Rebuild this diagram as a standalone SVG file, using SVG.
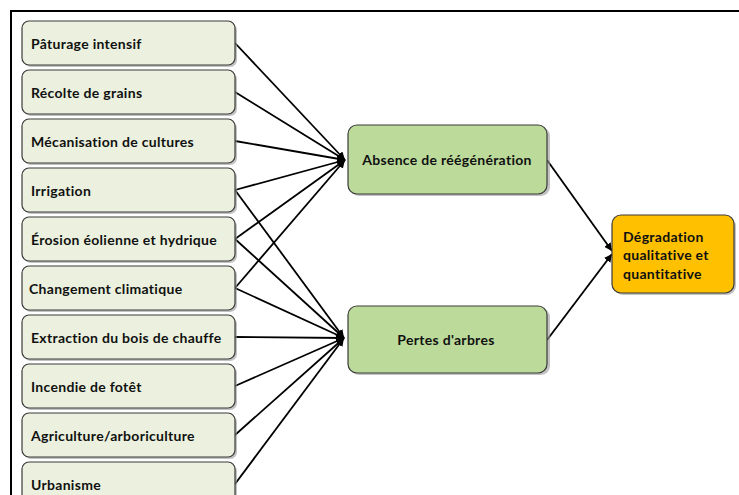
<svg xmlns="http://www.w3.org/2000/svg" width="739" height="495" viewBox="0 0 739 495">
<defs>
<style>
.frame{fill:none;stroke:#000;stroke-width:2}
.sh{fill:#9a9a9a;opacity:0.6}
.src{fill:#ebf1de;stroke:#3a3a3a;stroke-width:1.2}
.mid{fill:#bcdb9b;stroke:#3a3a3a;stroke-width:1.2}
.out{fill:#ffc000;stroke:#3a3a3a;stroke-width:1.2}
text{font-family:Lato,"Liberation Sans",sans-serif;font-weight:bold;font-size:14px;letter-spacing:0.3px;fill:#111}
.c{text-anchor:middle}
.ln{stroke:#000;stroke-width:1.8;fill:none}
</style>
<marker id="ah" viewBox="0 0 10 10" refX="10" refY="5" markerWidth="8" markerHeight="8" markerUnits="userSpaceOnUse" orient="auto">
<path d="M0,0 L10,5 L0,10 z" fill="#000"/>
</marker>
</defs>
<rect width="739" height="495" fill="#fff"/>
<rect class="frame" x="11" y="11" width="740" height="500"/>
<g id="connectors">
<line class="ln" x1="235" y1="43" x2="345" y2="160" marker-end="url(#ah)"/>
<line class="ln" x1="235" y1="92" x2="345" y2="160" marker-end="url(#ah)"/>
<line class="ln" x1="235" y1="141" x2="345" y2="160" marker-end="url(#ah)"/>
<line class="ln" x1="235" y1="190" x2="345" y2="160" marker-end="url(#ah)"/>
<line class="ln" x1="235" y1="239" x2="345" y2="160" marker-end="url(#ah)"/>
<line class="ln" x1="235" y1="288" x2="345" y2="160" marker-end="url(#ah)"/>
<line class="ln" x1="235" y1="190" x2="344" y2="338" marker-end="url(#ah)"/>
<line class="ln" x1="235" y1="239" x2="344" y2="338" marker-end="url(#ah)"/>
<line class="ln" x1="235" y1="288" x2="344" y2="338" marker-end="url(#ah)"/>
<line class="ln" x1="235" y1="337" x2="344" y2="338" marker-end="url(#ah)"/>
<line class="ln" x1="235" y1="386" x2="344" y2="338" marker-end="url(#ah)"/>
<line class="ln" x1="235" y1="435" x2="344" y2="338" marker-end="url(#ah)"/>
<line class="ln" x1="235" y1="484" x2="344" y2="338" marker-end="url(#ah)"/>
<line class="ln" x1="547" y1="160" x2="612" y2="251" marker-end="url(#ah)"/>
<line class="ln" x1="547" y1="340" x2="612" y2="254" marker-end="url(#ah)"/>
</g>
<g id="n1"><rect class="sh" x="24" y="23" width="213" height="44" rx="7"/><rect class="src" x="22" y="21" width="213" height="44" rx="7"/><text x="31" y="49">Pâturage intensif</text></g>
<g id="n2"><rect class="sh" x="24" y="72" width="213" height="44" rx="7"/><rect class="src" x="22" y="70" width="213" height="44" rx="7"/><text x="31" y="98">Récolte de grains</text></g>
<g id="n3"><rect class="sh" x="24" y="121" width="213" height="44" rx="7"/><rect class="src" x="22" y="119" width="213" height="44" rx="7"/><text x="31" y="147">Mécanisation de cultures</text></g>
<g id="n4"><rect class="sh" x="24" y="170" width="213" height="44" rx="7"/><rect class="src" x="22" y="168" width="213" height="44" rx="7"/><text x="31" y="196">Irrigation</text></g>
<g id="n5"><rect class="sh" x="24" y="219" width="213" height="44" rx="7"/><rect class="src" x="22" y="217" width="213" height="44" rx="7"/><text x="31" y="245">Érosion éolienne et hydrique</text></g>
<g id="n6"><rect class="sh" x="24" y="268" width="213" height="44" rx="7"/><rect class="src" x="22" y="266" width="213" height="44" rx="7"/><text x="29" y="294">Changement climatique</text></g>
<g id="n7"><rect class="sh" x="24" y="317" width="213" height="44" rx="7"/><rect class="src" x="22" y="315" width="213" height="44" rx="7"/><text x="31" y="343">Extraction du bois de chauffe</text></g>
<g id="n8"><rect class="sh" x="24" y="366" width="213" height="44" rx="7"/><rect class="src" x="22" y="364" width="213" height="44" rx="7"/><text x="31" y="392">Incendie de fotêt</text></g>
<g id="n9"><rect class="sh" x="24" y="415" width="213" height="44" rx="7"/><rect class="src" x="22" y="413" width="213" height="44" rx="7"/><text x="31" y="441">Agriculture/arboriculture</text></g>
<g id="n10"><rect class="sh" x="24" y="464" width="213" height="44" rx="7"/><rect class="src" x="22" y="462" width="213" height="44" rx="7"/><text x="31" y="490">Urbanisme</text></g>
<g id="absence"><rect class="sh" x="350" y="127" width="200" height="69" rx="9"/><rect class="mid" x="348" y="125" width="199" height="69" rx="9"/><text class="c" x="447" y="165">Absence de réégénération</text></g>
<g id="pertes"><rect class="sh" x="350" y="308" width="200" height="67" rx="9"/><rect class="mid" x="348" y="306" width="199" height="67" rx="9"/><text class="c" x="446" y="345">Pertes d'arbres</text></g>
<g id="degradation"><rect class="sh" x="614" y="217" width="122" height="78" rx="9"/><rect class="out" x="612" y="215" width="122" height="78" rx="9"/><text x="623" y="242">Dégradation</text><text x="623" y="260">qualitative et</text><text x="623" y="279">quantitative</text></g>
</svg>
